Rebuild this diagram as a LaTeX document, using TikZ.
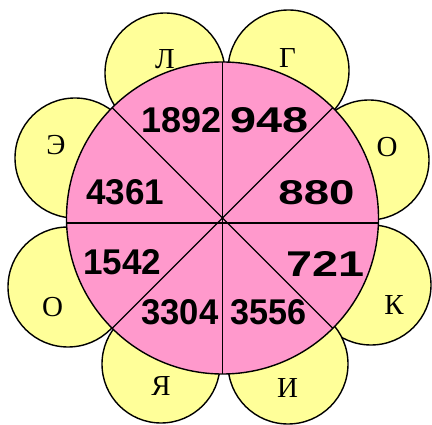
\documentclass[tikz,border=0pt]{standalone}
\usepackage{fontspec}
\setmainfont{Liberation Serif}
\newfontfamily\numfont{Liberation Sans}
\definecolor{petal}{HTML}{FFFF99}
\definecolor{core}{HTML}{FF99CC}
\newcommand\numtxt[3]{\resizebox{#1pt}{#2pt}{\numfont\bfseries #3}}
\begin{document}
\begin{tikzpicture}[x=1pt,y=-1pt,
  petalfill/.style={fill=petal,draw=black,line width=1.4pt},
  corefill/.style={fill=core,draw=black,line width=1.4pt},
  divider/.style={draw=black,line width=1.4pt},
  letter/.style={inner sep=0pt,font=\fontsize{29}{29}\selectfont},
  number/.style={inner sep=0pt}]
\useasboundingbox (0,0) rectangle (432,425);
% petals
\draw[petalfill] (165,73) circle (60);
\draw[petalfill] (288.5,70.5) circle (60.5);
\draw[petalfill] (369,160) circle (60);
\draw[petalfill] (371,285) circle (60);
\draw[petalfill] (288,364) circle (60);
\draw[petalfill] (161,364) circle (59);
\draw[petalfill] (68,287) circle (60);
\draw[petalfill] (75,158) circle (60);
% core
\coordinate (c) at (222.5,218);
\draw[corefill] (c) circle (156);
\coordinate (vt) at (222.5,62);
\coordinate (vb) at (222.5,374);
\coordinate (hl) at (66.6,223);
\coordinate (hr) at (378.4,223);
\coordinate (dtl) at (112.2,107.7);
\coordinate (dbr) at (332.8,328.3);
\coordinate (dtr) at (332.8,107.7);
\coordinate (dbl) at (112.2,328.3);
\draw[divider] (vt) -- (vb);
\draw[divider] (hl) -- (hr);
\draw[divider] (dtl) -- (dbr);
\draw[divider] (dtr) -- (dbl);
% numbers
\node[number] (n1892) at (181.5,120.5) {\numtxt{80}{25}{1892}};
\node[number] (n948) at (269.5,120.5) {\numtxt{78}{25}{948}};
\node[number] (n880) at (316.5,192.5) {\numtxt{76}{24}{880}};
\node[number] (n4361) at (125.5,192.5) {\numtxt{78}{25}{4361}};
\node[number] (n1542) at (122.5,262.5) {\numtxt{78}{25}{1542}};
\node[number] (n721) at (325.5,264.5) {\numtxt{78}{25}{721}};
\node[number] (n3304) at (180,312.5) {\numtxt{77}{25}{3304}};
\node[number] (n3556) at (268.5,312.5) {\numtxt{76}{25}{3556}};
% letters
\node[letter] (l1) at (165,59) {Л};
\node[letter] (l2) at (287.5,58.5) {Г};
\node[letter] (l3) at (387,147) {О};
\node[letter] (l4) at (394,305) {К};
\node[letter] (l5) at (287.5,388) {И};
\node[letter] (l6) at (161,386) {Я};
\node[letter] (l7) at (52.5,307.5) {О};
\node[letter] (l8) at (56,145) {Э};
\end{tikzpicture}
\end{document}
